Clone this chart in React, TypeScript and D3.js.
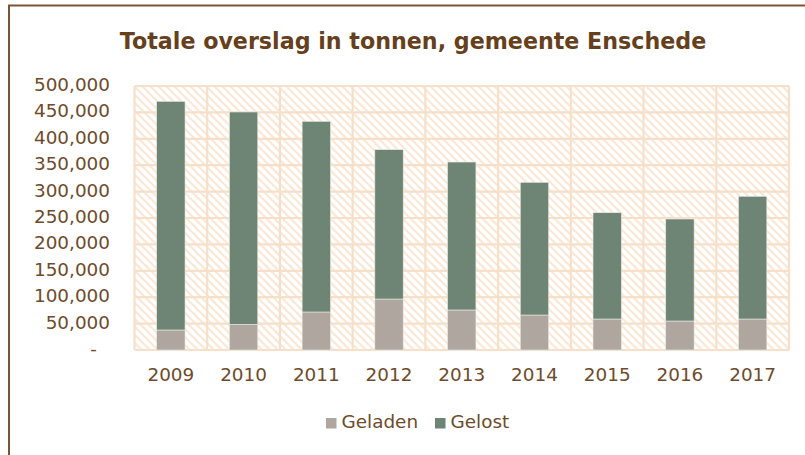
import React from "react";
import * as d3 from "d3";

const years = ["2009", "2010", "2011", "2012", "2013", "2014", "2015", "2016", "2017"];
const geladen = [37900, 48700, 72000, 96600, 75800, 66300, 58700, 54900, 58700];
const gelost = [433100, 402100, 361100, 282800, 280200, 251300, 201300, 193200, 232400];
const yTicks = [0, 50000, 100000, 150000, 200000, 250000, 300000, 350000, 400000, 450000, 500000];
const seriesNames = ["Geladen", "Gelost"];
const seriesColors = ["#aea69f", "#6e8474"];
const title = "Totale overslag in tonnen, gemeente Enschede";

const W = 805;
const H = 455;
const plot = { left: 134.5, right: 789, top: 86, bottom: 350 };
const textColor = "#6e4b2a";
const gridColor = "#f7e0ca";
const font = "Verdana, 'DejaVu Sans', sans-serif";

export default function App() {
  const x = d3.scaleBand<string>().domain(years).range([plot.left, plot.right]).paddingInner(0.61).paddingOuter(0.305);
  const y = d3.scaleLinear().domain([0, 500000]).range([plot.bottom, plot.top]);
  const fmt = (v: number) => (v === 0 ? "-" : d3.format(",")(v));
  const band = (plot.right - plot.left) / years.length;

  const stacked = years.map((yr, i) => {
    const g0 = 0;
    const g1 = geladen[i];
    const l1 = geladen[i] + gelost[i];
    return { yr, segs: [[g0, g1], [g1, l1]] };
  });

  return (
    <svg width={W} height={H} style={{ position: "absolute", left: 0, top: 0, background: "#fff" }} fontFamily={font}>
      <defs>
        <pattern id="hatch" width="8" height="8" patternUnits="userSpaceOnUse">
          <rect width="8" height="8" fill="#ffffff" />
          <path d="M-2,-2 L10,10 M-2,6 L2,10 M6,-2 L10,2" stroke="#fbe8d6" strokeWidth="2.2" />
        </pattern>
      </defs>
      <rect x={9} y={5.5} width={900} height={600} fill="#fff" stroke="#7b5434" strokeWidth={2} />
      <text x={413} y={42} textAnchor="middle" dominantBaseline="middle" fontSize={22.2} fontWeight="bold" fill="#663f1c">
        {title}
      </text>
      <rect x={plot.left} y={plot.top} width={plot.right - plot.left} height={plot.bottom - plot.top} fill="url(#hatch)" />
      {yTicks.map((t) => (
        <line key={"h" + t} x1={plot.left} x2={plot.right} y1={y(t)} y2={y(t)} stroke={gridColor} strokeWidth={2.2} />
      ))}
      {d3.range(years.length + 1).map((i) => (
        <line key={"v" + i} x1={plot.left + i * band} x2={plot.left + i * band} y1={plot.top} y2={plot.bottom} stroke={gridColor} strokeWidth={2.2} />
      ))}
      {stacked.map((d) =>
        d.segs.map((s, k) => (
          <rect
            key={d.yr + k}
            x={x(d.yr)}
            y={y(s[1])}
            width={x.bandwidth()}
            height={y(s[0]) - y(s[1])}
            fill={seriesColors[k]}
            stroke="#e8ebe6"
            strokeWidth={0.6}
          />
        ))
      )}
      {yTicks.map((t) => (
        <text
          key={"yt" + t}
          x={t === 0 ? 97 : 110}
          y={y(t)}
          textAnchor="end"
          dominantBaseline="middle"
          fontSize={18.4}
          fill={textColor}
        >
          {fmt(t)}
        </text>
      ))}
      {years.map((yr) => (
        <text key={"xt" + yr} x={(x(yr) as number) + x.bandwidth() / 2} y={375.5} textAnchor="middle" dominantBaseline="middle" fontSize={18.4} fill={textColor}>
          {yr}
        </text>
      ))}
      {seriesNames.map((n, i) => {
        const lx = [326, 435][i];
        return (
          <g key={n}>
            <rect x={lx} y={418} width={10.5} height={10.5} fill={seriesColors[i]} />
            <text x={lx + 15.5} y={423} dominantBaseline="middle" fontSize={18.4} fill={textColor}>
              {n}
            </text>
          </g>
        );
      })}
    </svg>
  );
}
